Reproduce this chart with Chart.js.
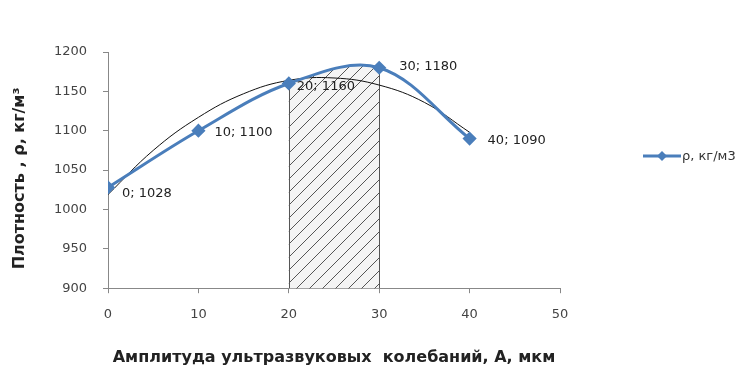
<!DOCTYPE html>
<html>
<head>
<meta charset="utf-8">
<script src="https://cdn.jsdelivr.net/npm/chart.js@4/dist/chart.umd.min.js"></script>
<style>
  html, body { margin: 0; padding: 0; background: #fff; }
  #wrap { width: 755px; height: 375px; position: relative; }
</style>
</head>
<body>
<div id="wrap"><canvas id="chart"></canvas></div>
<script>
// data
const amplitude = [0, 10, 20, 30, 40];
const density = [1028, 1100, 1160, 1180, 1090];
const trendX = [0, 5, 10, 15, 20, 25, 30, 35, 40];
const trendY = [1019, 1075, 1117, 1147, 1164, 1167, 1158, 1136, 1098];
const hatchFrom = 20;
const hatchTo = 30;
const xTicks = [0, 10, 20, 30, 40, 50];
const yTicks = [900, 950, 1000, 1050, 1100, 1150, 1200];

const seriesLabel = 'ρ, кг/м3';
const blue = '#4a7ebb';
const tickColor = '#444';
const font = '"DejaVu Sans", sans-serif';

function makeHatch() {
  const c = document.createElement('canvas');
  c.width = 13; c.height = 13;
  const g = c.getContext('2d');
  g.fillStyle = '#f4f4f4';
  g.fillRect(0, 0, 13, 13);
  g.strokeStyle = '#555';
  g.lineWidth = 1;
  g.beginPath();
  g.moveTo(-1, 14); g.lineTo(14, -1);
  g.stroke();
  return g.createPattern(c, 'repeat');
}

// hatched area under the curve between two amplitudes
const hatchPlugin = {
  id: 'hatch',
  beforeDatasetsDraw(chart) {
    const ctx = chart.ctx;
    const pts = chart.getDatasetMeta(0).data;
    const a = pts[amplitude.indexOf(hatchFrom)];
    const b = pts[amplitude.indexOf(hatchTo)];
    const bottom = chart.scales.y.getPixelForValue(900);
    ctx.save();
    ctx.beginPath();
    ctx.moveTo(a.x, bottom);
    ctx.lineTo(a.x, a.y);
    ctx.bezierCurveTo(a.cp2x, a.cp2y, b.cp1x, b.cp1y, b.x, b.y);
    ctx.lineTo(b.x, bottom);
    ctx.closePath();
    ctx.fillStyle = makeHatch();
    ctx.fill();
    ctx.strokeStyle = '#555';
    ctx.lineWidth = 1;
    ctx.beginPath();
    ctx.moveTo(Math.round(a.x) + 0.5, bottom);
    ctx.lineTo(Math.round(a.x) + 0.5, a.y);
    ctx.moveTo(Math.round(b.x) + 0.5, bottom);
    ctx.lineTo(Math.round(b.x) + 0.5, b.y);
    ctx.stroke();
    ctx.restore();
  },
  afterDatasetsDraw(chart) {
    const ctx = chart.ctx;
    const pts = chart.getDatasetMeta(0).data;
    const offs = [[14, 6], [16, 2], [8, 3], [20, -1], [18, 2]];
    ctx.save();
    ctx.font = '13px ' + font;
    ctx.fillStyle = '#222';
    ctx.textBaseline = 'middle';
    pts.forEach((p, i) => {
      ctx.fillText(amplitude[i] + '; ' + density[i], p.x + offs[i][0], p.y + offs[i][1]);
    });
    // legend
    const lx = 643, ly = 156;
    ctx.strokeStyle = blue;
    ctx.lineWidth = 3;
    ctx.beginPath();
    ctx.moveTo(lx, ly); ctx.lineTo(lx + 38, ly);
    ctx.stroke();
    ctx.fillStyle = blue;
    ctx.beginPath();
    ctx.moveTo(lx + 19, ly - 5); ctx.lineTo(lx + 24, ly);
    ctx.lineTo(lx + 19, ly + 5); ctx.lineTo(lx + 14, ly);
    ctx.closePath();
    ctx.fill();
    ctx.fillStyle = '#333';
    ctx.font = '13px ' + font;
    ctx.fillText(seriesLabel, lx + 39, ly + 1);
    ctx.restore();
  }
};

new Chart(document.getElementById('chart'), {
  type: 'scatter',
  data: {
    datasets: [
      {
        label: seriesLabel,
        data: amplitude.map((x, i) => ({ x, y: density[i] })),
        showLine: true,
        tension: 0.35,
        borderColor: blue,
        borderWidth: 3,
        pointStyle: 'rectRot',
        pointRadius: 5,
        pointBackgroundColor: blue,
        pointBorderColor: blue,
        order: 1
      },
      {
        label: 'trend',
        data: trendX.map((x, i) => ({ x, y: trendY[i] })),
        showLine: true,
        tension: 0.4,
        borderColor: '#111',
        borderWidth: 1,
        pointRadius: 0,
        order: 2
      }
    ]
  },
  options: {
    responsive: true,
    maintainAspectRatio: false,
    animation: false,
    layout: { padding: { top: 52, right: 195, bottom: 8, left: 0 } },
    plugins: { legend: { display: false }, tooltip: { enabled: false } },
    scales: {
      x: {
        type: 'linear', min: 0, max: 50,
        afterBuildTicks: s => { s.ticks = xTicks.map(v => ({ value: v })); },
        grid: { drawOnChartArea: false, drawTicks: true, tickLength: 5, color: '#888' },
        border: { color: '#888' },
        ticks: { color: tickColor, font: { size: 13, family: font }, padding: 14, callback: v => String(v) },
        title: {
          display: true, text: 'Амплитуда ультразвуковых  колебаний, А, мкм',
          color: '#222', font: { size: 16, weight: 'bold', family: font },
          padding: { top: 11, bottom: 0 }
        }
      },
      y: {
        min: 900, max: 1200,
        afterBuildTicks: s => { s.ticks = yTicks.map(v => ({ value: v })); },
        afterFit: s => { s.width = 108; },
        grid: { drawOnChartArea: false, drawTicks: true, tickLength: 5, color: '#888' },
        border: { color: '#888' },
        ticks: { color: tickColor, font: { size: 13, family: font }, padding: 16, callback: v => String(v) },
        title: {
          display: true, text: 'Плотность , ρ, кг/м³   ',
          color: '#222', font: { size: 16, weight: 'bold', family: font },
          padding: { top: 10, bottom: 0 }
        }
      }
    }
  },
  plugins: [hatchPlugin]
});
</script>
</body>
</html>
